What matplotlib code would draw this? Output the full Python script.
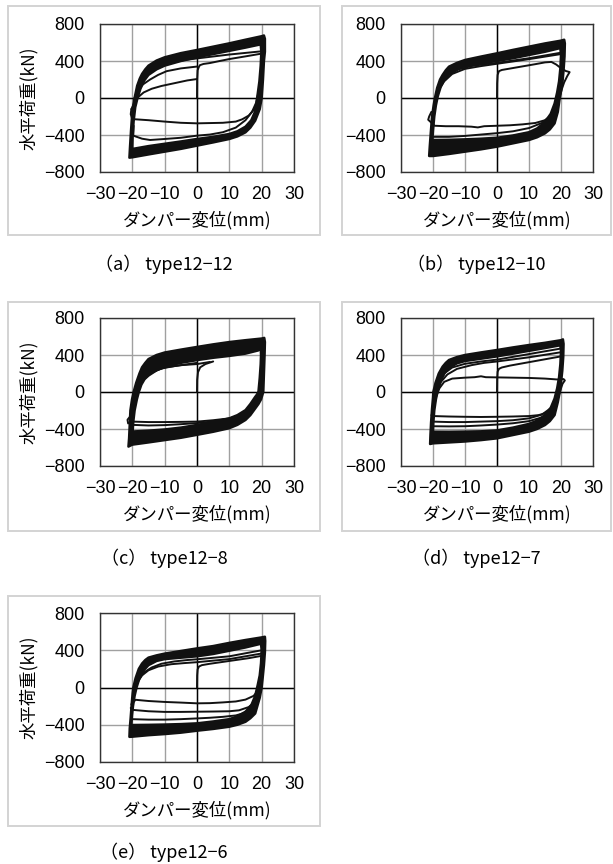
import matplotlib
matplotlib.use("Agg")
import matplotlib.pyplot as plt
from matplotlib.path import Path
from matplotlib.patches import PathPatch, Rectangle

# ---------------- data ----------------
XTICKS = [-30, -20, -10, 0, 10, 20, 30]
XTICKLABELS = ["\u221230", "\u221220", "\u221210", "0", "10", "20", "30"]
YTICKS = [-800, -400, 0, 400, 800]
YTICKLABELS = ["\u2212800", "\u2212400", "0", "400", "800"]
XLABEL = "ダンパー変位(mm)"
YLABEL = "水平荷重(kN)"
CAPTIONS = ["（a） type12\u221212", "（b） type12\u221210", "（c） type12\u22128",
            "（d） type12\u22127", "（e） type12\u22126"]

# ---- panel (a) type12-12 ----
A_OUT_X = [-20.9, -20.7, -20.4, -20.1, -19.7, -19.3, -18.5, -17.7, -17, -16, -15, -12.5, -10, -5, 0, 5, 10, 15, 20, 20.7,
           21.0, 21.0, 20.7, 20.4, 20.0, 19.4, 18, 16.5, 15, 12.5, 10, 5, 0, -5, -10, -15, -20, -20.9]
A_OUT_Y = [-645, -520, -350, -200, -80, 0, 133, 210, 260, 310, 350, 405, 440, 485, 519, 555, 591, 630, 668, 676,
           640, 500, 400, 200, 0, -120, -245, -320, -371, -415, -443, -480, -515, -550, -580, -610, -641, -645]
A_IN_X = [-20.0, -19.9, -19.6, -19.1, -18.4, -17.5, -16.3, -15, -12.5, -10, -5, 0, 5, 10, 15, 19.7,
          19.9, 19.7, 19.3, 18.8, 18.4, 17.8, 16.8, 15, 12.5, 10, 5, 0, -5, -10, -15, -20.0]
A_IN_Y = [-551, -400, -250, -100, 0, 100, 190, 250, 310, 350, 400, 440, 475, 510, 545, 580,
          500, 350, 180, 50, -50, -160, -240, -310, -360, -389, -420, -443, -470, -495, -520, -551]
A_THIN = [
    ([0, 0.05, 0.2, 0.5, 0.9, 2, 4, 7, 10, 15, 20, 20.6],
     [0, 200, 300, 330, 355, 368, 378, 400, 421, 450, 480, 490]),
    ([-20.3, -19.5, -18.5, -16.5, -14, -11, -7, -3, 0],
     [-120, -60, 0, 60, 100, 130, 160, 190, 205]),
    ([-19.6, -18.5, -17, -14.5, -12, -9.4, -5, 0],
     [-20, 60, 140, 200, 250, 290, 320, 340]),
    ([20.6, 20.4, 20, 19.3, 18, 16, 14, 12, 8, 0, -5, -10, -15, -20, -20.5, -20.3],
     [490, 300, 100, -10, -110, -190, -230, -255, -268, -274, -268, -255, -240, -228, -175, -120]),
    ([19, 18.3, 17, 15, 12, 8, 4, 0, -5, -10, -14.5, -17, -19.7, -19.6],
     [60, -50, -150, -240, -320, -370, -395, -407, -430, -443, -454, -440, -407, -300]),
    ([-17.5, -15, -12, -8, -4, 0, 10, 20, 20.6],
     [170, 260, 330, 380, 410, 428, 470, 505, 515]),
]

# ---- panel (b) type12-10 ----
B_OUT_X = [-21.2, -21.0, -20.7, -20.3, -19.8, -19.4, -18.7, -17.8, -17, -16, -15, -12.5, -10, -5, 0, 5, 10, 15, 20, 21.0,
           21.2, 21.1, 20.8, 20.4, 19.6, 19.0, 18, 16.5, 15, 12.5, 10, 5, 0, -5, -10, -15, -20, -21.2]
B_OUT_Y = [-627, -520, -380, -200, -80, 0, 110, 200, 249, 300, 339, 380, 411, 448, 483, 520, 555, 590, 620, 630,
           590, 450, 300, 150, 0, -150, -274, -340, -382, -425, -454, -490, -526, -555, -580, -605, -627, -627]
B_IN_X = [-20.2, -20.0, -19.6, -19.1, -18.5, -17.6, -16.3, -15, -12.5, -10, -5, 0, 5, 10, 15, 19.8,
          20.0, 19.8, 19.4, 18.8, 18, 16.8, 15, 12.5, 10, 5, 0, -5, -10, -15, -20.2]
B_IN_Y = [-454, -350, -200, -80, 20, 120, 210, 260, 315, 345, 375, 400, 430, 465, 500, 540,
          460, 320, 180, 60, -60, -170, -260, -330, -370, -405, -430, -440, -447, -452, -454]
B_THIN = [
    ([0, 0.05, 0.2, 0.6, 1.5, 4, 8, 12, 15, 17, 18.5, 20, 21.5, 22.7, 22.0, 21.0, 20.3, 19.5, 19, 17.5, 15, 12,
      8, 4, 0, -4, -6, -8, -12, -16, -19.5, -21.5, -21.2, -20.5],
     [0, 160, 250, 290, 303, 318, 342, 366, 385, 390, 362, 322, 292, 280, 240, 170, 100, 0, -60, -170, -240, -270,
      -285, -295, -300, -305, -318, -310, -305, -305, -300, -235, -200, -150]),
    ([-20.2, -15, -10, -5, 0, 5, 10, 14, 17, 19],
     [-420, -420, -410, -395, -380, -360, -325, -270, -190, -80]),
    ([-18.7, -16.5, -14, -10, -5, 0, 10, 20],
     [60, 180, 260, 315, 345, 370, 420, 475]),
    ([-19.3, -17.5, -15, -12, -8, -4, 0, 10, 20],
     [0, 150, 250, 310, 345, 365, 380, 430, 490]),
]

# ---- panel (c) type12-8 ----
C_OUT_X = [-21.2, -21.0, -20.8, -20.6, -20.1, -19.6, -18.8, -17.8, -17, -16, -15, -12.5, -10, -5, 0, 5, 10, 15, 20, 20.8,
           21.0, 20.9, 20.7, 20.5, 19.8, 19.0, 18, 16.5, 15, 12.5, 10, 5, 0, -5, -10, -15, -20, -21.2]
C_OUT_Y = [-590, -500, -350, -200, -80, 0, 100, 200, 267, 315, 356, 400, 427, 458, 487, 515, 540, 560, 578, 585,
           540, 400, 200, 0, -80, -130, -178, -250, -302, -355, -391, -430, -463, -495, -520, -545, -569, -590]
C_IN_X = [-19.9, -19.7, -19.3, -18.6, -18.0, -17.2, -16.2, -15, -12.5, -10, -5, 0, 5, 10, 15, 19.0, 19.7,
          19.8, 19.7, 19.4, 19.0, 18.5, 18, 16.5, 15, 12.5, 10, 5, 0, -5, -10, -15, -19.9]
C_IN_Y = [-427, -320, -200, -80, 0, 80, 140, 178, 235, 274, 315, 345, 370, 390, 415, 450, 490,
          400, 300, 150, 0, -30, -53, -130, -196, -250, -285, -325, -356, -385, -405, -418, -427]
C_THIN = [
    ([0, 0.05, 0.3, 1, 2.6, 5],
     [0, 130, 213, 267, 302, 330]),
    ([-18.8, -16.8, -14.7, -12, -9.6, -5, 0, 4],
     [18, 120, 196, 240, 267, 290, 302, 325]),
    ([-18.3, -16.5, -14, -11, -7, -3, 0],
     [40, 150, 215, 255, 280, 300, 315]),
    ([19, 18, 16.5, 14, 10, 5, 0, -5, -10, -15, -20, -21.3, -21.5, -20.8],
     [0, -100, -190, -250, -285, -305, -320, -323, -325, -325, -320, -340, -300, -270]),
    ([-20.2, -15, -10, -5, 0, 5, 10, 14],
     [-355, -362, -358, -348, -336, -318, -288, -240]),
]

# ---- panel (d) type12-7 ----
D_OUT_X = [-20.9, -20.8, -20.6, -20.3, -20.0, -19.9, -19.2, -18.2, -17, -16, -15, -12.5, -10, -5, 0, 5, 10, 15, 20, 20.6,
           20.8, 20.7, 20.4, 20.0, 19.6, 19, 18, 16.5, 15, 12.5, 10, 5, 0, -5, -10, -15, -20, -20.9]
D_OUT_Y = [-562, -470, -330, -180, -60, 0, 100, 200, 274, 315, 346, 378, 400, 428, 454, 482, 508, 532, 560, 569,
           520, 380, 230, 100, 0, -110, -249, -315, -357, -400, -429, -465, -501, -520, -535, -545, -555, -562]
D_IN_X = [-20.0, -19.9, -19.6, -19.1, -18.5, -17.6, -16.3, -15, -12.5, -10, -5, 0, 5, 10, 15, 19.8,
          20.0, 19.8, 19.4, 18.8, 18, 16.8, 15, 12.5, 10, 5, 0, -5, -10, -15, -20.0]
D_IN_Y = [-429, -330, -200, -80, 20, 120, 210, 260, 310, 335, 360, 385, 415, 445, 475, 505,
          440, 300, 160, 40, -70, -170, -250, -310, -345, -385, -415, -425, -428, -430, -429]
D_THIN = [
    ([0, 0.05, 0.2, 0.6, 1.5, 4, 8, 12, 16, 20, 20.5],
     [0, 140, 220, 250, 265, 285, 310, 335, 360, 385, 390]),
    ([-19.6, -19, -18, -16.5, -14, -10, -7, -5, -3.5, 0, 5, 10, 15, 19, 20.8, 21.2, 20.5, 20, 19.3, 18, 16, 13,
      10, 5, 0, -5, -10, -15, -20, -20.5],
     [-150, -50, 40, 110, 145, 155, 160, 170, 160, 158, 155, 152, 145, 135, 140, 125, 90, 40, -40, -140, -220,
      -250, -260, -265, -268, -270, -268, -265, -260, -250]),
    ([-20.3, -15, -10, -5, 0, 5, 10, 14, 17],
     [-320, -325, -325, -320, -315, -305, -285, -245, -170]),
    ([-20.3, -15, -10, -5, 0, 5, 10, 14, 17],
     [-370, -372, -370, -362, -352, -338, -315, -275, -200]),
    ([-18.8, -17.5, -15.5, -12.5, -8, -4, 0, 10, 20],
     [0, 110, 190, 250, 290, 315, 330, 375, 430]),
    ([-19.3, -18, -16.5, -14, -10, -5, 0, 10, 20],
     [-20, 110, 200, 265, 305, 330, 350, 410, 470]),
]

# ---- panel (e) type12-6 ----
E_OUT_X = [-20.9, -20.8, -20.5, -20.2, -19.9, -19.7, -19.0, -18.0, -17, -16, -15, -12.5, -10, -5, 0, 5, 10, 15, 20, 21.0,
           21.1, 21.0, 20.7, 20.3, 20.0, 19.4, 18, 16.5, 15, 12.5, 10, 5, 0, -5, -10, -15, -20, -20.9]
E_OUT_Y = [-530, -440, -320, -180, -60, 0, 100, 200, 257, 295, 321, 345, 364, 392, 420, 445, 479, 510, 538, 545,
           500, 380, 240, 100, 0, -110, -279, -330, -368, -400, -421, -445, -464, -485, -500, -512, -528, -530]
E_IN_X = [-20.3, -20.1, -19.8, -19.3, -18.7, -17.8, -16.6, -15, -12.5, -10, -5, 0, 5, 10, 15, 19.8,
          20.0, 19.8, 19.4, 18.8, 18, 16.8, 15, 12.5, 10, 5, 0, -5, -10, -15, -20.3]
E_IN_Y = [-403, -300, -200, -90, 0, 100, 180, 240, 285, 305, 320, 335, 360, 395, 430, 470,
          400, 260, 130, 30, -90, -190, -260, -310, -340, -365, -385, -393, -398, -401, -403]
E_THIN = [
    ([0, 0.05, 0.2, 0.6, 1.5, 4, 8, 12, 16, 20, 20.5],
     [0, 130, 195, 225, 240, 255, 275, 295, 315, 340, 345]),
    ([-19.6, -18.5, -17, -15, -12, -8, -4, 0, 10, 20],
     [-60, 50, 130, 185, 225, 250, 262, 272, 305, 365]),
    ([-19.2, -18, -16.3, -14, -11, -7, -3, 0, 10, 20],
     [-20, 90, 165, 215, 255, 280, 295, 303, 335, 400]),
    ([20.2, 19.7, 19, 17.5, 15, 12, 8, 4, 0, -5, -10, -15, -19, -20.3],
     [150, 40, -30, -90, -130, -150, -160, -168, -170, -162, -155, -145, -132, -180]),
    ([19.3, 18, 16, 13, 10, 5, 0, -5, -10, -15, -20, -20.5],
     [-60, -150, -210, -245, -255, -258, -260, -262, -262, -255, -240, -220]),
    ([18, 15, 12, 8, 4, 0, -5, -10, -15, -20],
     [-200, -270, -300, -315, -325, -332, -340, -345, -345, -340]),
]

PANELS = [
    (A_OUT_X, A_OUT_Y, A_IN_X, A_IN_Y, A_THIN),
    (B_OUT_X, B_OUT_Y, B_IN_X, B_IN_Y, B_THIN),
    (C_OUT_X, C_OUT_Y, C_IN_X, C_IN_Y, C_THIN),
    (D_OUT_X, D_OUT_Y, D_IN_X, D_IN_Y, D_THIN),
    (E_OUT_X, E_OUT_Y, E_IN_X, E_IN_Y, E_THIN),
]

# ---------------- layout (pixels) ----------------
W, H = 613, 864
PLOT_X = [(100, 294), (401, 593)]
PLOT_Y = [(24, 172), (318, 466), (613, 762)]
BOX_X = [(8, 320), (342, 611)]
BOX_Y = [(6, 235), (302, 531), (596, 826)]
CAP_Y = [264, 558, 852]

fig = plt.figure(figsize=(W / 100, H / 100), dpi=100)
fig.patch.set_facecolor("white")

JP = ["Noto Sans CJK JP", "DejaVu Sans"]
NUM = ["Liberation Sans", "DejaVu Sans"]
INK = "#111111"


def fx(px):
    return px / W


def fy(py):
    return 1 - py / H


for i, (ox, oy, ix, iy, thin) in enumerate(PANELS):
    r, c = divmod(i, 2)
    bx0, bx1 = BOX_X[c]
    by0, by1 = BOX_Y[r]
    fig.patches.append(Rectangle((fx(bx0), fy(by1)), fx(bx1) - fx(bx0), fy(by0) - fy(by1),
                                 transform=fig.transFigure, fill=False,
                                 edgecolor="#d3d3d3", lw=1.4, zorder=0))
    x0, x1 = PLOT_X[c]
    y0, y1 = PLOT_Y[r]
    ax = fig.add_axes([fx(x0), fy(y1), fx(x1) - fx(x0), fy(y0) - fy(y1)])
    ax.set_xlim(-30, 30)
    ax.set_ylim(-800, 800)
    ax.set_xticks(XTICKS)
    ax.set_xticklabels(XTICKLABELS, fontfamily=NUM, fontsize=13)
    ax.set_yticks(YTICKS)
    ax.set_yticklabels(YTICKLABELS, fontfamily=NUM, fontsize=13)
    ax.tick_params(axis="x", length=0, pad=10)
    ax.tick_params(axis="y", length=0, pad=11)
    ax.grid(True, color="#a0a0a0", lw=1.0, zorder=0)
    ax.axhline(0, color="black", lw=1.0, zorder=2)
    ax.axvline(0, color="black", lw=1.0, zorder=2)
    for s in ax.spines.values():
        s.set_color("#333333")
        s.set_linewidth(1.0)
        s.set_zorder(5)

    # solid band of repeated cycles
    outer = list(zip(ox, oy))
    inner = list(zip(ix, iy))[::-1]
    verts = outer + [outer[0]] + inner + [inner[0]]
    codes = ([Path.MOVETO] + [Path.LINETO] * (len(outer) - 1) + [Path.CLOSEPOLY] +
             [Path.MOVETO] + [Path.LINETO] * (len(inner) - 1) + [Path.CLOSEPOLY])
    ax.add_patch(PathPatch(Path(verts, codes), facecolor=INK, edgecolor=INK,
                           lw=1.8, joinstyle="round", zorder=3))
    for tx, ty in thin:
        ax.plot(tx, ty, color=INK, lw=1.4, solid_joinstyle="round", solid_capstyle="round", zorder=3)

    ax.set_xlabel(XLABEL, fontfamily=JP, fontsize=12.5, labelpad=6)
    if c == 0:
        ax.set_ylabel(YLABEL, fontfamily=JP, fontsize=12.5, labelpad=4)

    fig.text(fx((bx0 + bx1) / 2), fy(CAP_Y[r]), CAPTIONS[i], fontfamily=JP, fontsize=13,
             ha="center", va="center")

fig.savefig("out.png", dpi=100, facecolor="white")
